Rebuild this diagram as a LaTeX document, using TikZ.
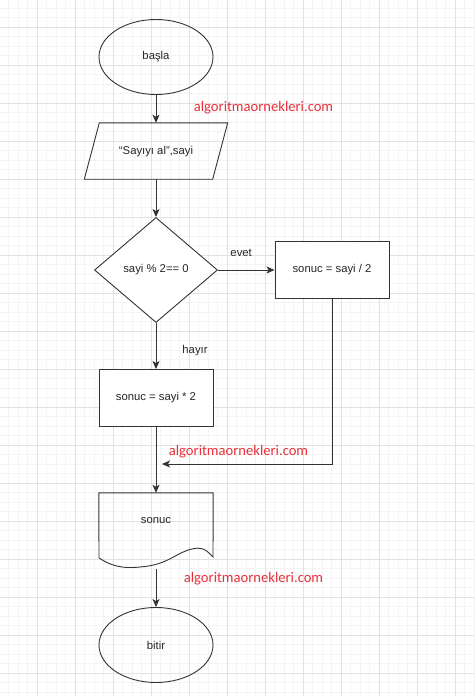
\documentclass[tikz,border=0pt]{standalone}
\usepackage{fontspec}
\setmainfont{Liberation Sans}
\newfontfamily\markfont{Carlito}
\usetikzlibrary{shapes.geometric,arrows.meta,positioning}
\definecolor{linegray}{HTML}{333333}
\definecolor{gridmajor}{HTML}{E2E2E2}
\definecolor{gridminor}{HTML}{F4F4F4}
\definecolor{markred}{HTML}{E8303A}

\begin{document}
\begin{tikzpicture}[x=1pt,y=-1pt,
  every node/.style={font=\fontsize{11.3}{13}\selectfont, text=black!85, inner sep=0pt},
  term/.style={ellipse, draw=linegray, line width=0.9pt, minimum width=114pt, minimum height=75pt},
  inbox/.style={rectangle, minimum width=128pt, minimum height=56pt},
  cond/.style={diamond, draw=linegray, line width=0.9pt, minimum width=123pt, minimum height=105pt},
  procbox/.style={rectangle, draw=linegray, line width=0.9pt, minimum width=114pt, minimum height=57pt},
  docbox/.style={rectangle, minimum width=114pt, minimum height=65pt},
  arr/.style={draw=linegray, line width=0.9pt, -{Stealth[length=8pt,width=7pt,inset=2pt]}},
  watermark/.style={font=\markfont\fontsize{14.6}{16}\selectfont, text=markred}]
\useasboundingbox (0,0) rectangle (474,696);
% Background grid
\fill[white] (0,0) rectangle (474,696);
\foreach \k in {1,...,50} \draw[gridminor, line width=0.5pt] ({-1+9.5*\k},0) -- ++(0,696);
\foreach \k in {1,...,74} \draw[gridminor, line width=0.5pt] (0,{-11+9.5*\k}) -- ++(474,0);
\foreach \k in {1,...,12} \draw[gridmajor, line width=0.6pt] ({-1+38*\k},0) -- ++(0,696);
\foreach \k in {1,...,18} \draw[gridmajor, line width=0.6pt] (0,{-11+38*\k}) -- ++(474,0);
% Flowchart nodes
\node[term] (start) at (156,57) {başla};
\node[inbox] (read) at (156,151) {};
\node[cond, fill=white] (check) at (156,270) {sayi \% 2== 0};
\node[procbox, fill=white] (half) at (332,270) {sonuc = sayi / 2};
\node[procbox, fill=white] (double) at (156,398) {sonuc = sayi * 2};
\node[docbox] (out) at (156,525.5) {};
\node[term] (stop) at (156,645) {bitir};
% Input parallelogram
\draw[linegray, line width=0.9pt] ([xshift=-7.5pt]read.south west) -- ([xshift=7.5pt]read.north west)
  -- ([xshift=7.5pt]read.north east) -- ([xshift=-7.5pt]read.south east) -- cycle;
\node (readtext) at (156,152) {“Sayıyı al”,sayi};
% Document shape with wavy bottom
\draw[linegray, line width=0.9pt] (99,558) -- (out.north west) -- (out.north east) -- (213,557)
  .. controls (205,548) and (200,547) .. (192,549)
  .. controls (175,553) and (168,565) .. (140,567)
  .. controls (120,569) and (110,565) .. (99,558);
\node (outtext) at (156,521) {sonuc};
\coordinate (outbot) at (156,569);
\coordinate (join) at (162,464);
% Connectors
\draw[arr] (start) -- (read);
\draw[arr] (read) -- (check);
\draw[arr] (check) -- node[pos=0.41, yshift=17pt] {evet} (half);
\draw[arr] (check) -- node[pos=0.6, xshift=39pt] {hayır} (double);
\draw[arr] (half.south) |- (join);
\draw[arr] (double) -- (out.north);
\draw[arr] (outbot) -- (stop);
% Watermarks
\node[watermark] (mark1) at (263.5,108) {algoritmaornekleri.com};
\node[watermark] (mark2) at (238.5,452) {algoritmaornekleri.com};
\node[watermark] (mark3) at (253.5,579) {algoritmaornekleri.com};
\end{tikzpicture}
\end{document}
